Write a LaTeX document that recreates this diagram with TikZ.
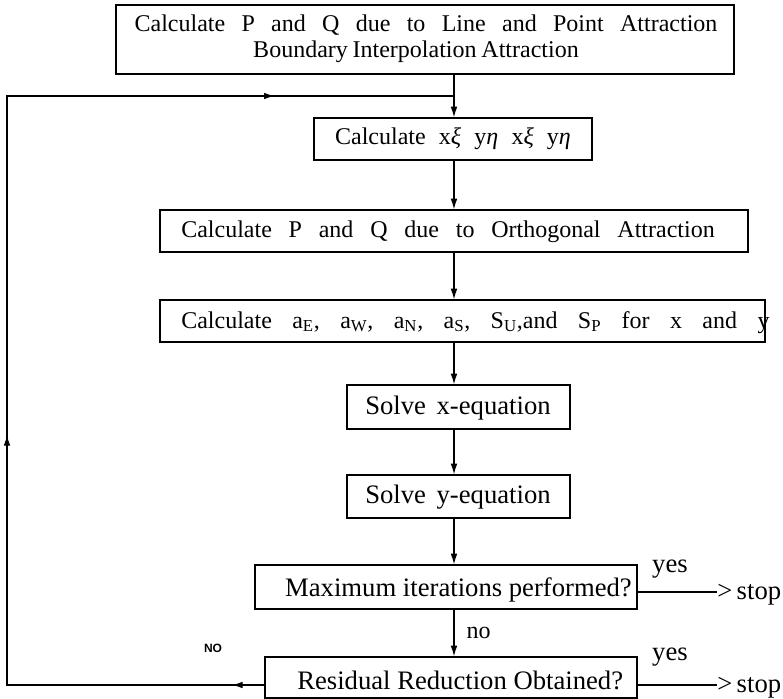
\documentclass[tikz,border=0pt]{standalone}
\usepackage{fontspec}
\setmainfont{Liberation Serif}
\newfontfamily\nofont{Liberation Sans}
\usetikzlibrary{arrows.meta,decorations.markings,fit}
\newcommand\bodyfont{\fontsize{18}{16.5}\selectfont}
\newcommand\bigbodyfont{\fontsize{20}{18}\selectfont}
\newcommand\wsp[1]{\spaceskip=#1em plus 0.1em\relax}
\begin{document}
\begin{tikzpicture}[x=0.75pt,y=-0.75pt,
  box/.style={draw,line width=0.9pt,inner sep=0pt},
  txt/.style={inner sep=0pt,font=\bodyfont},
  bigtxt/.style={inner sep=0pt,font=\bigbodyfont},
  ln/.style={line width=0.9pt},
  tip/.style={-{Latex[length=8pt,width=5pt]}},
  midtips/.style={postaction={decorate},decoration={markings,
     mark=at position 24.75pt with {\arrow{Latex[length=8pt,width=5pt]}},
     mark=at position 381pt with {\arrow{Latex[length=8pt,width=5pt]}},
     mark=at position 836pt with {\arrow{Latex[length=8pt,width=5pt]}}}}]
\useasboundingbox (0,0) rectangle (783,699);
\coordinate (col) at (454,0);
% boxes
\node[box,fit={(116,5)(734,74)}] (b1) {};
\node[txt,anchor=base] (t1a) at (426,32) {\wsp{0.68}Calculate P and Q due to Line and Point Attraction};
\node[txt,anchor=base] (t1b) at (416,58) {\wsp{0.2}Boundary Interpolation Attraction};
\node[box,fit={(314,118)(592,160)}] (b2) {};
\node[txt] (t2) at (b2.center) {\wsp{0.55}Calculate x{\itshape ξ} y{\itshape η} x{\itshape ξ} y{\itshape η}};
\node[box,fit={(160,210)(748,252)}] (b3) {};
\node[txt,anchor=base west] (t3) at (181,238) {\wsp{0.7}Calculate P and Q due to Orthogonal Attraction};
\node[box,fit={(160,300)(765,342)}] (b4) {};
\node[txt,anchor=base west] (t4) at (181,328) {\wsp{0.85}Calculate a\textsubscript{E}, a\textsubscript{W}, a\textsubscript{N}, a\textsubscript{S}, S\textsubscript{U},and S\textsubscript{P} for x and y};
\node[box,fit={(347,385)(570,429)}] (b5) {};
\node[bigtxt,anchor=base west] (t5) at (365,414) {\wsp{0.4}Solve x-equation};
\node[box,fit={(347,475)(570,518)}] (b6) {};
\node[bigtxt,anchor=base west] (t6) at (365,503) {\wsp{0.4}Solve y-equation};
\node[box,fit={(255,565)(637,609)}] (b7) {};
\node[bigtxt,anchor=base east] (t7) at (632,596) {Maximum iterations performed?};
\node[box,fit={(265,657)(637,698)}] (b8) {};
\node[bigtxt,anchor=base west] (t8) at (297,689) {Residual Reduction Obtained?};
% main column
\draw[ln,tip] (b1.south -| col) -- (b2.north -| col);
\draw[ln,tip] (b2.south -| col) -- (b3.north -| col);
\draw[ln,tip] (b3.south -| col) -- (b4.north -| col);
\draw[ln,tip] (b4.south -| col) -- (b5.north -| col);
\draw[ln,tip] (b5.south -| col) -- (b6.north -| col);
\draw[ln,tip] (b6.south -| col) -- (b7.north -| col);
\draw[ln,tip] (b7.south -| col) -- node[txt,right=9pt,pos=0.5] (no) {no} (b8.north -| col);
% loop back
\coordinate (j) at (454,96);
\coordinate (bl) at (7,685);
\coordinate (tl) at (7,96);
\coordinate (e8) at (265,685);
\draw[ln,midtips] (e8) -- (bl) -- (tl) -- (j);
\node[inner sep=0pt,font=\nofont\bfseries\fontsize{9}{10}\selectfont] (NO) at (213,648) {NO};
% stop exits
\coordinate (e7) at (637,592);
\coordinate (s1) at (717,592);
\node[bigtxt,anchor=base west] (st1) at (717,599) {>\,stop};
\draw[ln] (e7) -- (s1);
\node[bigtxt,anchor=base] (y1) at (670,572) {yes};
\coordinate (e8r) at (637,685);
\coordinate (s2) at (717,685);
\node[bigtxt,anchor=base west] (st2) at (717,692) {>\,stop};
\draw[ln] (e8r) -- (s2);
\node[bigtxt,anchor=base] (y2) at (670,660) {yes};
\end{tikzpicture}
\end{document}
